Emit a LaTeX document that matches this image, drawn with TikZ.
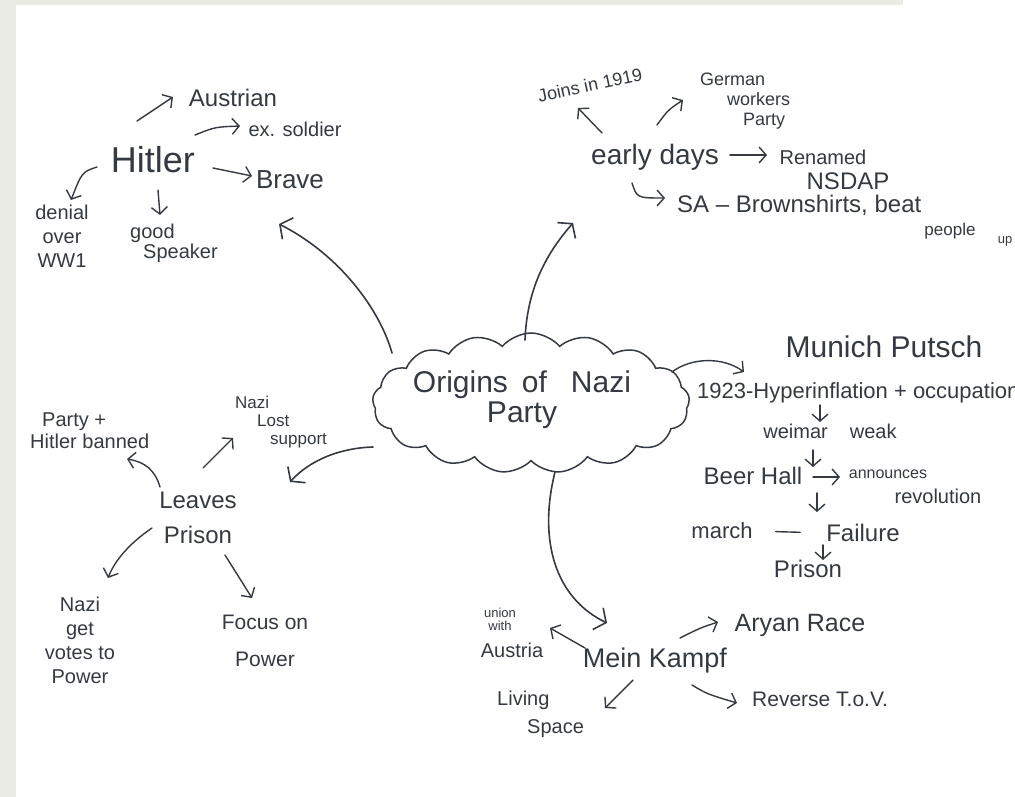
\documentclass[tikz,border=0pt]{standalone}
\usepackage{fontspec}
\setmainfont{Liberation Sans}
\usetikzlibrary{shapes.symbols,arrows.meta}
\definecolor{ink}{HTML}{353A42}
\definecolor{framegray}{HTML}{EBEBE6}
\begin{document}
\begin{tikzpicture}[x=1pt,y=-1pt,
  txt/.style={text=ink, inner sep=0pt},
  fz/.style={font=\fontsize{#1}{#1}\selectfont},
  arr/.style={draw=ink, line width=1.4pt, line cap=round, -{Straight Barb[length=7pt,width=16pt,line width=1.4pt]}},
  bigarr/.style={draw=ink, line width=1.6pt, line cap=round, -{Straight Barb[length=9pt,width=24pt,line width=1.6pt]}},
  plain/.style={draw=ink, line width=1.4pt, line cap=round}]
\fill[framegray] (0,0) rectangle (1015,797);
\fill[white] (16,5) rectangle (1015,797);
\fill[white] (903,0) rectangle (1015,5);
\useasboundingbox (0,0) rectangle (1015,797);

% central cloud
\node[cloud, draw=ink, line width=1.5pt, cloud puffs=17, cloud puff arc=100, aspect=2.26,
      minimum width=317pt, minimum height=140pt, inner sep=0pt] (cloud) at (531,403) {};
\node[txt,fz=30,align=center] (title) at (522,400) {Origins\hspace{14pt}of\hspace{24pt}Nazi\\Party};

% Hitler branch
\node[txt,fz=36] (hitler) at (153,160) {Hitler};
\node[txt,fz=24] (austrian) at (233,98) {Austrian};
\node[txt,fz=20] (soldier) at (295,129) {ex. soldier};
\node[txt,fz=26] (brave) at (290,180) {Brave};
\node[txt,fz=20,align=center] (denial) at (62,236) {denial\\[4pt]over\\[4pt]WW1};
\node[txt,fz=20,align=left,anchor=west] (speaker) at (130,243) {good\\\hspace*{13pt}Speaker};

% early days branch
\node[txt,fz=28] (early) at (655,157) {early days};
\node[txt,fz=18,rotate=12] (joins) at (590,85) {Joins in 1919};
\node[txt,fz=18,align=left,anchor=west] (german) at (700,101) {German\\[2pt]\hspace*{27pt}workers\\[2pt]\hspace*{43pt}Party};
\node[txt,fz=20] (renamed) at (823,157) {Renamed};
\node[txt,fz=24] (nsdap) at (848,181) {NSDAP};
\node[txt,fz=24,anchor=west] (sa) at (677,205) {SA -- Brownshirts, beat};
\node[txt,fz=17] (people) at (950,231) {people};
\node[txt,fz=13] (up) at (1005,241) {up};

% Munich Putsch branch
\node[txt,fz=30] (munich) at (884,347) {Munich Putsch};
\node[txt,fz=22,anchor=west] (hyper) at (697,393) {1923-Hyperinflation + occupation};
\node[txt,fz=20] (weimar) at (830,431) {weimar\hspace{22pt}weak};
\node[txt,fz=24] (beer) at (753,476) {Beer Hall};
\node[txt,fz=16] (announces) at (888,474) {announces};
\node[txt,fz=20] (revolution) at (938,496) {revolution};
\node[txt,fz=22] (march) at (722,531) {march};
\node[txt,fz=24] (failure) at (863,533) {Failure};
\node[txt,fz=24] (prison) at (808,569) {Prison};

% Leaves Prison branch
\node[txt,fz=24,align=center] (leaves) at (198,518) {Leaves\\[11pt]Prison};
\node[txt,fz=20,align=left,anchor=west] (banned) at (30,431) {\hspace*{12pt}Party +\\[2pt]Hitler banned};
\node[txt,fz=17,align=left,anchor=west] (lost) at (235,422) {Nazi\\[1pt]\hspace*{22pt}Lost\\[1pt]\hspace*{35pt}support};
\node[txt,fz=20,align=center] (votes) at (80,640) {Nazi\\[4pt]get\\[4pt]votes to\\[4pt]Power};
\node[txt,fz=21,align=center] (focus) at (265,641) {Focus on\\[16pt]Power};

% Mein Kampf branch
\node[txt,fz=27] (mein) at (655,661) {Mein Kampf};
\node[txt,fz=25] (aryan) at (800,625) {Aryan Race};
\node[txt,fz=21,anchor=west] (reverse) at (752,699) {Reverse T.o.V.};
\node[txt,fz=13,align=center] (unionwith) at (500,619) {union\\with};
\node[txt,fz=20] (austria) at (512,650) {Austria};
\node[txt,fz=20,align=left,anchor=west] (living) at (497,714) {Living\\[8pt]\hspace*{30pt}Space};

% connector end points
\coordinate (b1s) at (392,353); \coordinate (b1t) at (279,224);
\coordinate (b2s) at (525,340); \coordinate (b2t) at (573,223);
\coordinate (b3s) at (672,372); \coordinate (b3t) at (744,372);
\coordinate (b4s) at (373,447); \coordinate (b4t) at (290,482);
\coordinate (b5s) at (555,472); \coordinate (b5t) at (607,623);

\coordinate (h1s) at (137,121); \coordinate (h1t) at (173,97);
\coordinate (h2s) at (195,135); \coordinate (h2t) at (240,126);
\coordinate (h3s) at (213,168); \coordinate (h3t) at (252,176);
\coordinate (h4s) at (97,167);  \coordinate (h4t) at (71,200);
\coordinate (h5s) at (158,190); \coordinate (h5t) at (160,215);

\coordinate (e1s) at (602,133); \coordinate (e1t) at (578,108);
\coordinate (e2s) at (657,125); \coordinate (e2t) at (683,100);
\coordinate (e3s) at (730,155); \coordinate (e3t) at (767,155);
\coordinate (e4s) at (632,183); \coordinate (e4t) at (665,198);

\coordinate (m1s) at (820,405); \coordinate (m1t) at (820,422);
\coordinate (m2s) at (813,450); \coordinate (m2t) at (813,467);
\coordinate (m3s) at (813,477); \coordinate (m3t) at (840,477);
\coordinate (m4s) at (817,493); \coordinate (m4t) at (817,512);
\coordinate (m5s) at (823,545); \coordinate (m5t) at (823,560);

\coordinate (l1s) at (160,487); \coordinate (l1t) at (127,459);
\coordinate (l2s) at (203,468); \coordinate (l2t) at (233,438);
\coordinate (l3s) at (152,528); \coordinate (l3t) at (108,578);
\coordinate (l4s) at (225,555); \coordinate (l4t) at (252,598);

\coordinate (k1s) at (585,648); \coordinate (k1t) at (550,628);
\coordinate (k2s) at (680,638); \coordinate (k2t) at (718,622);
\coordinate (k3s) at (633,680); \coordinate (k3t) at (605,708);
\coordinate (k4s) at (692,685); \coordinate (k4t) at (737,703);

% big arrows from the cloud
\draw[bigarr] (b1s) .. controls (380,310) and (340,255) .. (b1t);
\draw[bigarr] (b2s) .. controls (527,290) and (545,255) .. (b2t);
\draw[arr] (b3s) .. controls (690,358) and (722,356) .. (b3t);
\draw[bigarr] (b4s) .. controls (340,448) and (310,460) .. (b4t);
\draw[bigarr] (b5s) .. controls (538,540) and (555,598) .. (b5t);

% Hitler arrows
\draw[arr] (h1s) -- (h1t);
\draw[arr] (h2s) .. controls (215,127) .. (h2t);
\draw[arr] (h3s) -- (h3t);
\draw[arr] (h4s) .. controls (82,172) .. (h4t);
\draw[arr] (h5s) -- (h5t);

% early days arrows
\draw[arr] (e1s) -- (e1t);
\draw[arr] (e2s) .. controls (668,110) .. (e2t);
\draw[arr] (e3s) -- (e3t);
\draw[arr] (e4s) .. controls (637,198) .. (e4t);

% Munich arrows
\draw[arr] (m1s) -- (m1t);
\draw[arr] (m2s) -- (m2t);
\draw[arr] (m3s) -- (m3t);
\draw[arr] (m4s) -- (m4t);
\draw[arr] (m5s) -- (m5t);
\draw[plain, shorten <=23pt, shorten >=26pt] (march.east) -- (failure.west);

% Leaves arrows
\draw[arr] (l1s) .. controls (155,470) and (145,462) .. (l1t);
\draw[arr] (l2s) -- (l2t);
\draw[arr] (l3s) .. controls (130,543) and (115,560) .. (l3t);
\draw[arr] (l4s) -- (l4t);

% Mein Kampf arrows
\draw[arr] (k1s) -- (k1t);
\draw[arr] (k2s) .. controls (700,628) .. (k2t);
\draw[arr] (k3s) -- (k3t);
\draw[arr] (k4s) .. controls (707,694) .. (k4t);
\end{tikzpicture}
\end{document}
